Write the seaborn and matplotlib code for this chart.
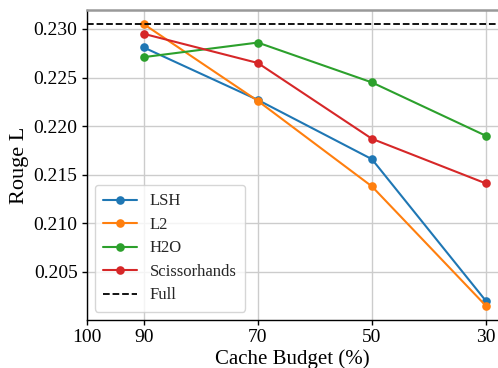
import matplotlib
matplotlib.use("Agg")
import matplotlib.pyplot as plt
import seaborn as sns
import pandas as pd

budgets = [90, 70, 50, 30]
lsh = [0.2281, 0.2227, 0.2166, 0.2020]
l2 = [0.2305, 0.2226, 0.2138, 0.2015]
h2o = [0.2271, 0.2286, 0.2245, 0.2190]
scissor = [0.2295, 0.2265, 0.2187, 0.2141]
full_value = 0.2305
methods = ["LSH", "L2", "H2O", "Scissorhands"]
x_ticks = [100, 90, 70, 50, 30]

sns.set_theme(style="whitegrid")
plt.rcParams['font.family'] = ['Liberation Serif', 'DejaVu Serif']
plt.rcParams['mathtext.fontset'] = 'stix'

rows = []
for name, vals in zip(methods, [lsh, l2, h2o, scissor]):
    for b, v in zip(budgets, vals):
        rows.append({"budget": b, "value": v, "method": name})
df = pd.DataFrame(rows)

fig = plt.figure(figsize=(4.98, 3.68), dpi=100)
ax = fig.add_axes([0.174, 0.1304, 0.826, 0.8424])

palette = ["#1f77b4", "#ff7f0e", "#2ca02c", "#d62728"]
sns.lineplot(data=df, x="budget", y="value", hue="method", hue_order=methods,
             palette=palette, marker="o", markersize=6.2, markeredgewidth=0,
             linewidth=1.5, ax=ax)
ax.axhline(full_value, color="black", linestyle="--", linewidth=1.3, label="Full")

ax.set_xlim(100, 27.9)
ax.set_xticks(x_ticks)
ax.set_xticklabels([str(t) for t in x_ticks])
ax.set_yticks([0.205, 0.210, 0.215, 0.220, 0.225, 0.230])
ax.set_yticklabels(["0.205", "0.210", "0.215", "0.220", "0.225", "0.230"])
ax.set_ylim(0.20005, 0.23195)

ax.grid(True, color="#cccccc", linewidth=1.0)
for s in ["left", "bottom"]:
    ax.spines[s].set_color("black")
    ax.spines[s].set_linewidth(1.0)
ax.spines["top"].set_color("#999999")
ax.spines["top"].set_linewidth(1.8)
ax.spines["right"].set_visible(False)
ax.tick_params(axis="both", which="both", length=3.5, width=1, color="black",
               labelsize=14, labelcolor="black", bottom=True, left=True, pad=3)

ax.set_xlabel("Cache Budget (%)", fontsize=15, color="black", labelpad=2)
ax.set_ylabel("Rouge L", fontsize=16, color="black", labelpad=3)

handles, labels = ax.get_legend_handles_labels()
leg = ax.legend(handles, labels, loc="lower left", fontsize=12, frameon=True,
                facecolor="white", edgecolor="#cccccc", framealpha=0.8,
                borderpad=0.5, labelspacing=0.45, handlelength=2.0)

fig.savefig("out.png", dpi=100)
